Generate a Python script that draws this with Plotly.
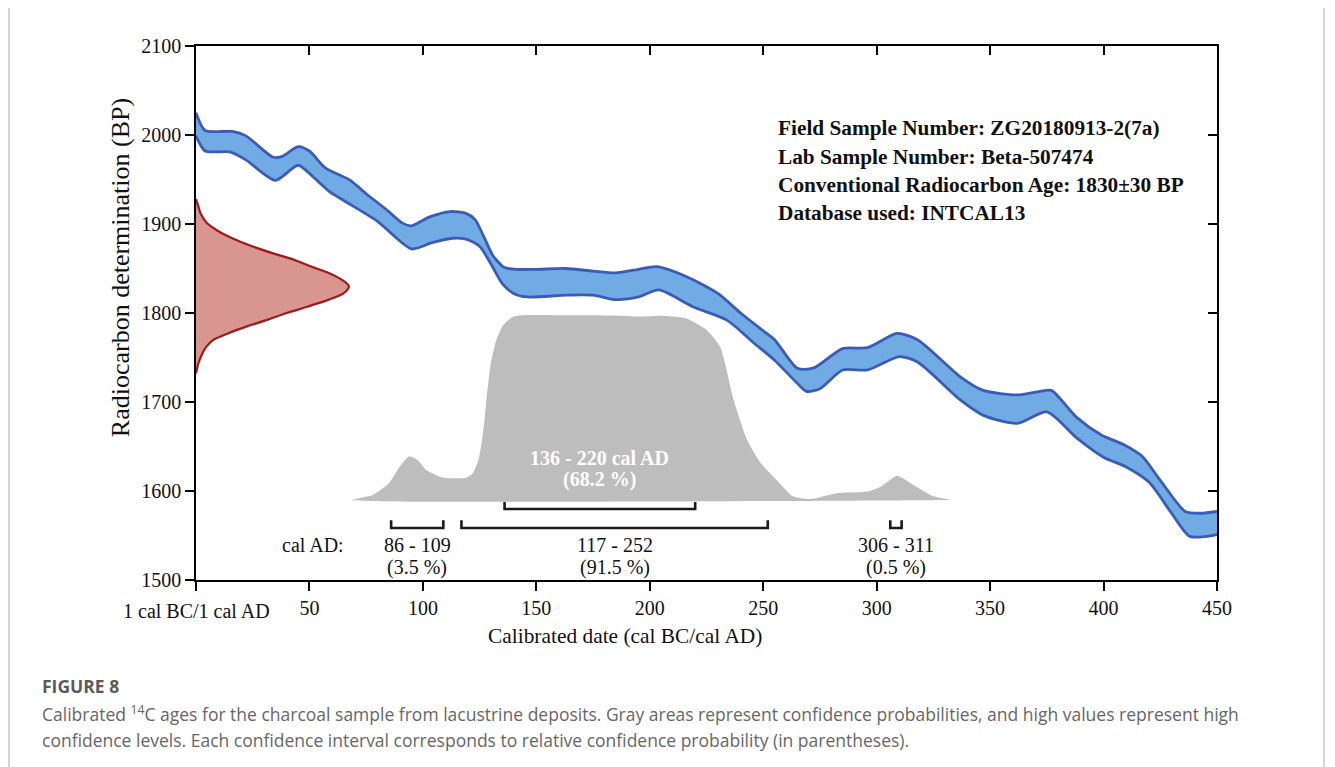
import plotly.graph_objects as go

# ---------------- data ----------------
# Calibration curve band (INTCAL13) – upper and lower edges, BP vs cal AD
band_upper_x = [0, 4, 16, 22, 34, 38, 45, 50, 57, 68, 75, 84, 91, 95, 103, 112, 119, 123, 127, 131,
                136, 142, 150, 163, 175, 185, 195, 203, 216, 230, 240, 250, 255, 265, 272, 285, 296,
                309, 318, 337, 347, 362, 372, 377, 388, 399, 409, 417, 425, 436, 443, 450]
band_upper_y = [2025, 2005, 2004, 1999, 1975, 1976, 1987, 1982, 1963, 1949, 1934, 1916, 1901, 1898,
                1908, 1914, 1912, 1905, 1885, 1864, 1851, 1849, 1849, 1850, 1847, 1845, 1849, 1852,
                1841, 1822, 1800, 1780, 1770, 1738, 1738, 1760, 1761, 1777, 1770, 1728, 1713, 1708,
                1712, 1713, 1683, 1663, 1652, 1639, 1612, 1577, 1575, 1577]
band_lower_x = [0, 4, 15, 22, 35, 45, 52, 59, 66, 80, 95, 104, 113, 119, 125, 130, 135, 140, 146,
                163, 175, 185, 195, 204, 219, 234, 246, 255, 265, 269, 275, 285, 296, 310, 318, 337,
                347, 362, 375, 388, 400, 410, 420, 430, 438, 450]
band_lower_y = [1999, 1982, 1981, 1972, 1949, 1966, 1952, 1936, 1925, 1903, 1872, 1879, 1884, 1883,
                1875, 1855, 1833, 1822, 1818, 1820, 1820, 1815, 1818, 1826, 1807, 1792, 1766, 1747,
                1721, 1712, 1715, 1736, 1736, 1751, 1745, 1702, 1685, 1676, 1689, 1660, 1638, 1627,
                1610, 1575, 1549, 1551]

# Measured radiocarbon age distribution (1830 ± 30 BP), drawn along the y axis
age_bp = [1928, 1920, 1912, 1902, 1893, 1884, 1875, 1867, 1860, 1852, 1845, 1837, 1830, 1822, 1815,
          1807, 1800, 1792, 1785, 1777, 1770, 1762, 1755, 1743, 1732]
age_density = [0, 1, 2, 4.5, 9.2, 16, 24.7, 34, 43, 51, 58.5, 64.5, 67.4, 65, 58.5, 49, 40, 31,
               22.5, 14, 7.8, 4.5, 2.9, 1, 0]

# Calibrated probability distribution (gray), baseline at 1590 BP
prob_base = 1590
prob_x = [69, 78, 85, 90, 94, 98, 101.5, 109, 119, 122, 124.5, 126.5, 128, 130, 132.4, 135.3, 139.7,
          144, 160, 175, 187, 196, 204.5, 210, 216, 225, 231, 237, 243, 249, 256, 263, 271, 282.5,
          296, 302, 309, 316, 325, 333]
prob_y = [1590, 1595.5, 1608.6, 1628, 1639, 1634, 1623.6, 1615, 1615, 1620, 1635, 1665, 1702, 1744,
          1770, 1786, 1795.8, 1797.5, 1797.5, 1797.5, 1797, 1796, 1797, 1796, 1794, 1781, 1762,
          1702, 1657, 1631, 1612, 1594, 1591, 1597.5, 1599.3, 1605, 1617, 1607, 1594, 1590]

# Confidence intervals
ci68_start, ci68_end, ci68_pct = [136], [220], ["68.2 %"]
ci95_start = [86, 117, 306]
ci95_end = [109, 252, 311]
ci95_pct = ["3.5 %", "91.5 %", "0.5 %"]

x_ticks = [50, 100, 150, 200, 250, 300, 350, 400, 450]
x_origin_tick = [0]
x_origin_label = "1 cal BC/1 cal AD"
y_ticks = [1500, 1600, 1700, 1800, 1900, 2000, 2100]

info_lines = ["Field Sample Number: ZG20180913-2(7a)",
              "Lab Sample Number: Beta-507474",
              "Conventional Radiocarbon Age: 1830\u00b130 BP",
              "Database used: INTCAL13"]

# ---------------- figure ----------------
SERIF = "Liberation Serif, Times New Roman, serif"
BLUE_FILL = "#70ace3"
BLUE_LINE = "#3a5cb8"
RED_FILL = "#d9958f"
RED_LINE = "#a01a1a"
GRAY = "#bdbdbd"
INK = "#111111"

fig = go.Figure()

# blue band fill
fig.add_trace(go.Scatter(
    x=band_upper_x + band_lower_x[::-1], y=band_upper_y + band_lower_y[::-1],
    mode="lines", fill="toself", fillcolor=BLUE_FILL,
    line=dict(width=0, shape="spline", smoothing=0.7), hoverinfo="skip", showlegend=False))
for bx, by in [(band_upper_x, band_upper_y), (band_lower_x, band_lower_y)]:
    fig.add_trace(go.Scatter(x=bx, y=by, mode="lines",
                             line=dict(color=BLUE_LINE, width=2.8, shape="spline", smoothing=0.7),
                             hoverinfo="skip", showlegend=False))

# gray calibrated probability
fig.add_trace(go.Scatter(
    x=prob_x + [prob_x[-1], prob_x[0]], y=prob_y + [prob_base, prob_base],
    mode="lines", fill="toself", fillcolor=GRAY,
    line=dict(width=0, shape="spline", smoothing=0.6), hoverinfo="skip", showlegend=False))

# red measured age distribution
fig.add_trace(go.Scatter(
    x=age_density, y=age_bp, mode="lines", fill="toself", fillcolor=RED_FILL,
    line=dict(color=RED_LINE, width=2.2, shape="spline", smoothing=0.8),
    hoverinfo="skip", showlegend=False))

# brackets
b68_low, b68_high = 1579.7, 1587.6
b95_low, b95_high = 1558.4, 1567.0
for s, e in zip(ci68_start, ci68_end):
    fig.add_trace(go.Scatter(x=[s, s, e, e], y=[b68_high, b68_low, b68_low, b68_high],
                             mode="lines", line=dict(color="#1a1a1a", width=2.6),
                             hoverinfo="skip", showlegend=False))
for s, e in zip(ci95_start, ci95_end):
    fig.add_trace(go.Scatter(x=[s, s, e, e], y=[b95_high, b95_low, b95_low, b95_high],
                             mode="lines", line=dict(color="#1a1a1a", width=2.6),
                             hoverinfo="skip", showlegend=False))

# dummy trace for the mirrored top/right axes
fig.add_trace(go.Scatter(x=[0, 450], y=[1500, 2100], xaxis="x2", yaxis="y2", mode="none",
                         hoverinfo="skip", showlegend=False))

ann = []
LBL = 20
# 95 % interval labels
for s, e, p in zip(ci95_start, ci95_end, ci95_pct):
    ann.append(dict(x=(s + e) / 2, y=1539.3, xref="x", yref="y", text=f"{s} - {e}",
                    xanchor="center", showarrow=False, font=dict(family=SERIF, size=LBL, color=INK)))
    ann.append(dict(x=(s + e) / 2, y=1514.5, xref="x", yref="y", text=f"({p})",
                    xanchor="center", showarrow=False, font=dict(family=SERIF, size=LBL, color=INK)))
ann.append(dict(x=51.5, y=1539.3, xref="x", yref="y", text="cal AD:", showarrow=False,
                xanchor="center", font=dict(family=SERIF, size=LBL, color=INK)))
# 68 % interval label (white, bold)
for s, e, p in zip(ci68_start, ci68_end, ci68_pct):
    ann.append(dict(x=(s + e) / 2, y=1637, xref="x", yref="y", text=f"<b>{s} - {e} cal AD</b>",
                    xanchor="center", showarrow=False, font=dict(family=SERIF, size=LBL, color="white")))
    ann.append(dict(x=(s + e) / 2, y=1612.4, xref="x", yref="y", text=f"<b>({p})</b>",
                    xanchor="center", showarrow=False, font=dict(family=SERIF, size=LBL, color="white")))
# info block
for i, line in enumerate(info_lines):
    ann.append(dict(x=255.6, y=[2008.3, 1975.7, 1944.2, 1912.7][i], xref="x", yref="y",
                    xanchor="left", yanchor="middle", text=f"<b>{line}</b>", showarrow=False,
                    font=dict(family=SERIF, size=21.3, color=INK)))
# special first tick label
ann.append(dict(x=x_origin_tick[0], y=0, xref="x", yref="paper", xanchor="center",
                yanchor="middle", yshift=-31, text=x_origin_label, showarrow=False,
                font=dict(family=SERIF, size=LBL, color=INK)))
# axis titles
ann.append(dict(x=0.42, y=-0.105, xref="paper", yref="paper", text="Calibrated date (cal BC/cal AD)",
                showarrow=False, xanchor="center", yanchor="middle",
                font=dict(family=SERIF, size=21.4, color=INK)))
ann.append(dict(x=-0.0744, y=0.584, xref="paper", yref="paper", textangle=-90,
                xanchor="center", yanchor="middle",
                text="Radiocarbon determination (BP)", showarrow=False,
                font=dict(family=SERIF, size=26, color=INK)))
# caption
CAP = "Open Sans, Noto Sans, sans-serif"
CAP_X = (40 - 196) / 1021
ann.append(dict(x=CAP_X, y=(580 - 686) / 534, xref="paper", yref="paper", xanchor="left",
                yanchor="middle", text="<b>FIGURE 8</b>", showarrow=False,
                font=dict(family=CAP, size=17.5, color="#5a5a5a")))
ann.append(dict(x=CAP_X, y=(580 - 713) / 534, xref="paper", yref="paper", xanchor="left",
                yanchor="middle",
                text="Calibrated <sup>14</sup>C ages for the charcoal sample from lacustrine deposits. "
                     "Gray areas represent confidence probabilities, and high values represent high",
                showarrow=False, font=dict(family=CAP, size=17.5, color="#666666")))
ann.append(dict(x=CAP_X, y=(580 - 740) / 534, xref="paper", yref="paper", xanchor="left",
                yanchor="middle",
                text="confidence levels. Each confidence interval corresponds to relative confidence "
                     "probability (in parentheses).",
                showarrow=False, font=dict(family=CAP, size=17.5, color="#666666")))

axis_common = dict(showline=True, linecolor="black", linewidth=1.6, showgrid=False,
                   zeroline=False, tickcolor="black", tickwidth=1.6, ticklen=9)

# the page body has an 8px default margin, so the figure is shifted; compensate
fig.update_layout(
    width=1327, height=759,
    margin=dict(l=188, r=118, t=38, b=187),
    paper_bgcolor="white", plot_bgcolor="white",
    showlegend=False,
    xaxis=dict(range=[0, 450], tickvals=x_ticks, ticks="outside",
               minor=dict(tickvals=x_origin_tick, ticks="outside", ticklen=9, tickwidth=1.6,
                          tickcolor="black", showgrid=False),
               tickfont=dict(family=SERIF, size=LBL, color=INK), automargin=False,
               fixedrange=True, **axis_common),
    yaxis=dict(range=[1500, 2100], tickvals=y_ticks, ticks="outside",
               tickfont=dict(family=SERIF, size=LBL, color=INK), automargin=False,
               fixedrange=True, **axis_common),
    xaxis2=dict(range=[0, 450], tickvals=x_ticks, ticks="inside", side="top", overlaying="x",
                showticklabels=False, automargin=False, **axis_common),
    yaxis2=dict(range=[1500, 2100], tickvals=y_ticks, ticks="inside", side="right",
                overlaying="y", showticklabels=False, automargin=False, **axis_common),
    annotations=ann,
    shapes=[dict(type="rect", xref="paper", yref="paper",
                 x0=(9 - 196) / 1021, x1=(1324 - 196) / 1021,
                 y0=(580 - 820) / 534, y1=(580 - 6) / 534,
                 line=dict(color="#c9c9c9", width=1.5), fillcolor="rgba(0,0,0,0)", layer="below")],
)

fig.write_html("out.html")
